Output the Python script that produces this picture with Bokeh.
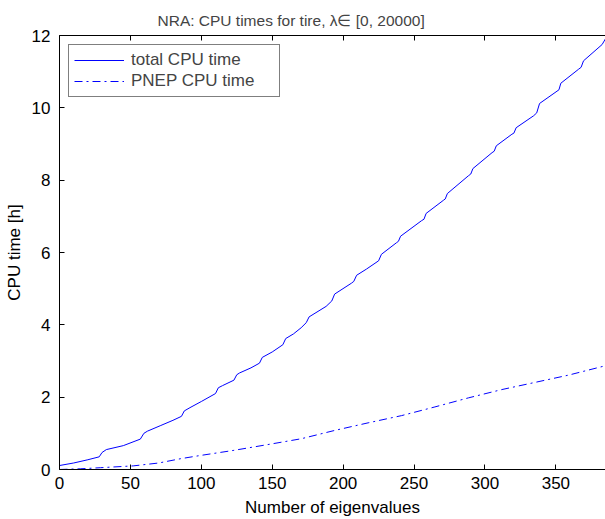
from bokeh.plotting import figure
from bokeh.models import Range1d, LinearAxis, FixedTicker, Legend, LegendItem, Title
from bokeh.embed import file_html
from bokeh.resources import INLINE

total_x = [0, 10, 20, 28, 30, 33, 45, 57, 59.5, 62, 71, 80, 86, 88, 92, 100, 110, 112, 115,
           123, 125, 127, 135, 141, 143, 150, 157.5, 159.5, 165, 170.4, 174, 176, 188, 192,
           194, 205.8, 207.5, 209.5, 216.4, 225, 227, 237.6, 239, 240.5, 255.3, 257, 258.5,
           270.6, 272, 273.5, 288.3, 290, 291.5, 305, 306.5, 308, 319, 320.4, 322, 334.3,
           336.5, 338.5, 350.8, 352.2, 353.5, 366.1, 367.8, 369.5, 382.6, 385]
total_y = [0.11, 0.18, 0.27, 0.35, 0.47, 0.55, 0.66, 0.84, 1.0, 1.06, 1.21, 1.36, 1.47, 1.62,
           1.71, 1.88, 2.10, 2.26, 2.32, 2.47, 2.62, 2.67, 2.81, 2.94, 3.10, 3.25, 3.45, 3.62,
           3.75, 3.92, 4.06, 4.22, 4.51, 4.66, 4.85, 5.15, 5.20, 5.37, 5.54, 5.77, 5.95, 6.27,
           6.31, 6.45, 6.88, 6.92, 7.08, 7.44, 7.48, 7.63, 8.12, 8.17, 8.32, 8.76, 8.80, 8.95,
           9.27, 9.30, 9.45, 9.78, 9.86, 10.12, 10.46, 10.50, 10.68, 11.07, 11.12, 11.30,
           11.75, 11.91]

pnep_x = [0, 15, 29, 52, 70, 85.6, 99.7, 123, 147, 170.4, 194, 217.6, 241.2, 264.7, 288.3,
          311.9, 335.5, 359, 385]
pnep_y = [0.0, 0.02, 0.05, 0.10, 0.18, 0.30, 0.39, 0.53, 0.69, 0.85, 1.08, 1.29, 1.49, 1.73,
          1.98, 2.21, 2.41, 2.61, 2.87]

x_ticks = [0, 50, 100, 150, 200, 250, 300, 350]
y_ticks = [0, 2, 4, 6, 8, 10, 12]

FONT = "Liberation Sans"
FS = "17px"

p = figure(width=605, height=519, output_backend="svg", toolbar_location=None,
           x_range=Range1d(0, 385), y_range=Range1d(0, 12),
           min_border_left=59, min_border_right=0, min_border_top=35, min_border_bottom=49)

p.title = Title(text="NRA: CPU times for tire, \u03bb\u2208 [0, 20000]", align="left", offset=98,
                text_font=FONT, text_font_size="15.5px", text_font_style="normal", standoff=13)

p.grid.visible = False
p.outline_line_color = None

for ax in [p.xaxis[0], p.yaxis[0]]:
    ax.major_tick_in = 5
    ax.major_tick_out = 0
    ax.minor_tick_in = 0
    ax.minor_tick_out = 0
    ax.axis_line_color = "black"
    ax.major_label_text_font = FONT
    ax.major_label_text_font_size = FS
    ax.major_label_text_color = "black"
    ax.axis_label_text_font = FONT
    ax.axis_label_text_font_size = FS
    ax.axis_label_text_font_style = "normal"
    ax.axis_label_text_color = "black"

p.xaxis[0].ticker = FixedTicker(ticks=x_ticks)
p.yaxis[0].ticker = FixedTicker(ticks=y_ticks)
p.xaxis[0].axis_label = "Number of eigenvalues"
p.yaxis[0].axis_label = "CPU time [h]"
p.xaxis[0].major_label_standoff = 7
p.xaxis[0].axis_label_standoff = 6
p.yaxis[0].major_label_standoff = 9
p.yaxis[0].axis_label_standoff = 5

top = LinearAxis(ticker=FixedTicker(ticks=x_ticks), major_tick_in=5, major_tick_out=0,
                 minor_tick_in=0, minor_tick_out=0, major_label_text_font_size="0px",
                 major_label_standoff=0, axis_line_color="black")
top.major_label_text_alpha = 0
p.add_layout(top, "above")

r1 = p.line(total_x, total_y, line_color="#0000ff", line_width=1)
r2 = p.line(pnep_x, pnep_y, line_color="#0000ff", line_width=1, line_dash="8 4 2 4")

legend = Legend(items=[LegendItem(label="total CPU time", renderers=[r1]),
                       LegendItem(label="PNEP CPU time", renderers=[r2])],
                location="top_left", label_text_font=FONT, label_text_font_size=FS,
                border_line_color="black", border_line_width=1, glyph_width=50,
                label_standoff=7, spacing=1, padding=5, margin=9,
                label_height=20, glyph_height=20, label_width=143)
p.add_layout(legend)

open("out.html", "w").write(file_html(p, INLINE))
